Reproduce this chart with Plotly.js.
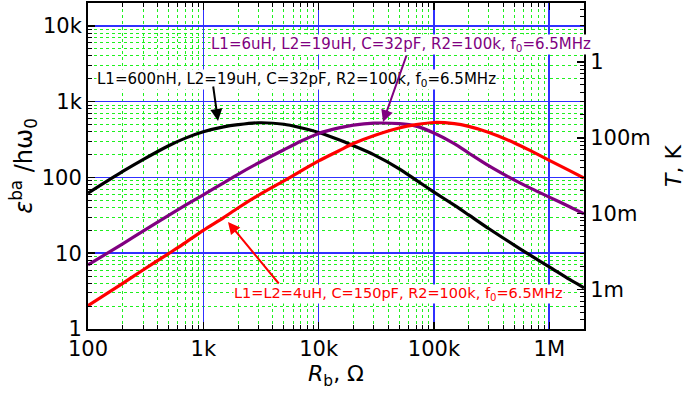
<!DOCTYPE html>
<html>
<head>
<meta charset="utf-8">
<script src="https://cdn.plot.ly/plotly-3.0.1.min.js"></script>
<style>html,body{margin:0;padding:0;background:#fff;}#chart{width:686px;height:394px;}</style>
</head>
<body>
<div id="chart"></div>
<script>
// Resistance R_b (Ohm)
const rb = [100, 200, 300, 500, 700, 1000, 1500, 2000, 3000, 5000, 7000, 10000, 15000, 20000, 30000, 50000, 70000, 100000, 150000, 200000, 300000, 500000, 700000, 1000000, 1500000, 2000000];
// eps^ba / h w0 for the three circuits
const blackSeries  = [62, 120, 172, 262, 330, 400, 464, 496, 526, 503, 452, 392, 314, 262, 200, 130, 92, 64, 43, 32, 21, 12.7, 9.2, 6.6, 4.5, 3.5];
const purpleSeries = [7, 13.3, 19.5, 31.5, 43, 59, 85, 110, 155, 232, 300, 380, 450, 490, 520, 511, 475, 385, 279, 210, 142, 92, 71, 55, 41, 33];
const redSeries    = [2.03, 4.0, 6.0, 9.9, 13.8, 20, 29.5, 39.5, 58, 90, 121, 165, 225, 280, 355, 449, 496, 530, 511, 471, 392, 285, 222, 168, 123, 98];

const xTickVals = [100, 1000, 10000, 100000, 1000000];
const xTickText = ['100', '1k', '10k', '100k', '1M'];
const yTickVals = [1, 10, 100, 1000, 10000];
const yTickText = ['1', '10', '100', '1k', '10k'];
const tTickVals = [0.001, 0.01, 0.1, 1];
const tTickText = ['1m', '10m', '100m', '1'];
const tScale = 3.0e-4; // T (K) per unit of eps/h w0

function minorVals(lo, hi) {
  const out = [];
  for (let d = lo; d <= hi; d *= 10) {
    for (let m = 2; m <= 9; m++) out.push(+(m * d).toPrecision(6));
  }
  return out;
}

const F = '"DejaVu Sans", Arial, sans-serif';
const blue = '#3030ff';
const green = 'rgb(30,240,30)';

const traces = [
  {x: rb, y: blackSeries, mode: 'lines', line: {color: '#000000', width: 3.2, shape: 'spline', smoothing: 0.8}, hoverinfo: 'skip'},
  {x: rb, y: purpleSeries, mode: 'lines', line: {color: '#800080', width: 3.2, shape: 'spline', smoothing: 0.8}, hoverinfo: 'skip'},
  {x: rb, y: redSeries, mode: 'lines', line: {color: '#ff0000', width: 3.2, shape: 'spline', smoothing: 0.8}, hoverinfo: 'skip'},
  {x: [], y: [], yaxis: 'y2', mode: 'lines', hoverinfo: 'skip'}
];

const L = 88, R = 102, T = 3, B = 65;
const pw = 686 - L - R, ph = 394 - T - B;
function px(xp) { return (xp - L) / pw; }
function py(yp) { return (394 - B - yp) / ph; }

const annFont = {family: F, size: 15};
const annotations = [
  {xref: 'paper', yref: 'paper', x: px(401), y: py(44), xanchor: 'center', yanchor: 'middle', showarrow: false,
   text: 'L1=6uH, L2=19uH, C=32pF, R2=100k, f<sub>0</sub>=6.5MHz', font: Object.assign({}, annFont, {color: '#800080'}), bgcolor: '#ffffff', borderpad: 0},
  {xref: 'paper', yref: 'paper', x: px(296), y: py(79), xanchor: 'center', yanchor: 'middle', showarrow: false,
   text: 'L1=600nH, L2=19uH, C=32pF, R2=100k, f<sub>0</sub>=6.5MHz', font: Object.assign({}, annFont, {color: '#000000'}), bgcolor: '#ffffff', borderpad: 0},
  {xref: 'paper', yref: 'paper', x: px(398), y: py(294), xanchor: 'center', yanchor: 'middle', showarrow: false,
   text: 'L1=L2=4uH, C=150pF, R2=100k, f<sub>0</sub>=6.5MHz', font: Object.assign({}, annFont, {size: 14.5, color: '#ff0000'}), bgcolor: '#ffffff', borderpad: 0},
  // arrows
  {xref: 'paper', yref: 'paper', x: px(383), y: py(122), ax: 24, ay: -68, text: '', showarrow: true, arrowhead: 2, arrowsize: 1.2, arrowwidth: 2, arrowcolor: '#800080'},
  {xref: 'paper', yref: 'paper', x: px(218), y: py(121), ax: -5, ay: -36, text: '', showarrow: true, arrowhead: 2, arrowsize: 1.2, arrowwidth: 2, arrowcolor: '#000000'},
  {xref: 'paper', yref: 'paper', x: px(228), y: py(222), ax: 52, ay: 63, text: '', showarrow: true, arrowhead: 2, arrowsize: 1.2, arrowwidth: 2, arrowcolor: '#ff0000'}
];

const layout = {
  width: 686, height: 394,
  margin: {l: L, r: R, t: T, b: B, pad: 0},
  paper_bgcolor: '#ffffff', plot_bgcolor: '#ffffff',
  showlegend: false,
  font: {family: F, color: '#000000'},
  xaxis: {
    type: 'log', range: [2, Math.log10(2e6)],
    tickmode: 'array', tickvals: xTickVals, ticktext: xTickText,
    tickfont: {size: 21, family: F},
    ticks: 'inside', ticklen: 7, tickwidth: 1.5, tickcolor: '#000',
    showline: true, linecolor: '#000', linewidth: 2, mirror: 'ticks',
    showgrid: true, gridcolor: blue, gridwidth: 1.6,
    zeroline: false,
    minor: {tickmode: 'array', tickvals: minorVals(100, 1e6), ticks: 'inside', ticklen: 4, tickcolor: '#000', tickwidth: 1,
            showgrid: true, gridcolor: green, griddash: 'dot', gridwidth: 1},
    title: {text: '<i>R</i><sub>b</sub>, Ω', font: {size: 22, family: F}, standoff: 4}
  },
  yaxis: {
    type: 'log', range: [0, Math.log10(2e4)],
    tickmode: 'array', tickvals: yTickVals, ticktext: yTickText,
    tickfont: {size: 21, family: F},
    ticks: 'inside', ticklen: 7, tickwidth: 1.5, tickcolor: '#000',
    showline: true, linecolor: '#000', linewidth: 2, mirror: false,
    showgrid: true, gridcolor: blue, gridwidth: 1.6,
    zeroline: false,
    minor: {tickmode: 'array', tickvals: minorVals(1, 1e4), ticks: 'inside', ticklen: 4, tickcolor: '#000', tickwidth: 1,
            showgrid: true, gridcolor: green, griddash: 'dot', gridwidth: 1},
    title: {text: '<i>ε</i><sup>ba</sup> /hω<sub>0</sub>', font: {size: 24, family: F}, standoff: 2}
  },
  yaxis2: {
    type: 'log', overlaying: 'y', side: 'right', anchor: 'x',
    range: [Math.log10(tScale), Math.log10(2e4 * tScale)],
    tickmode: 'array', tickvals: tTickVals, ticktext: tTickText,
    tickfont: {size: 21, family: F},
    ticks: 'inside', ticklen: 7, tickwidth: 1.5, tickcolor: '#000',
    showline: true, linecolor: '#000', linewidth: 2,
    showgrid: false, zeroline: false,
    minor: {tickmode: 'array', tickvals: minorVals(1e-4, 1), ticks: 'inside', ticklen: 4, tickcolor: '#000', tickwidth: 1, showgrid: false},
    title: {text: '<i>T</i>, K', font: {size: 22, family: F}, standoff: 18}
  },
  annotations: annotations
};

Plotly.newPlot('chart', traces, layout, {staticPlot: true, displayModeBar: false});
</script>
</body>
</html>
